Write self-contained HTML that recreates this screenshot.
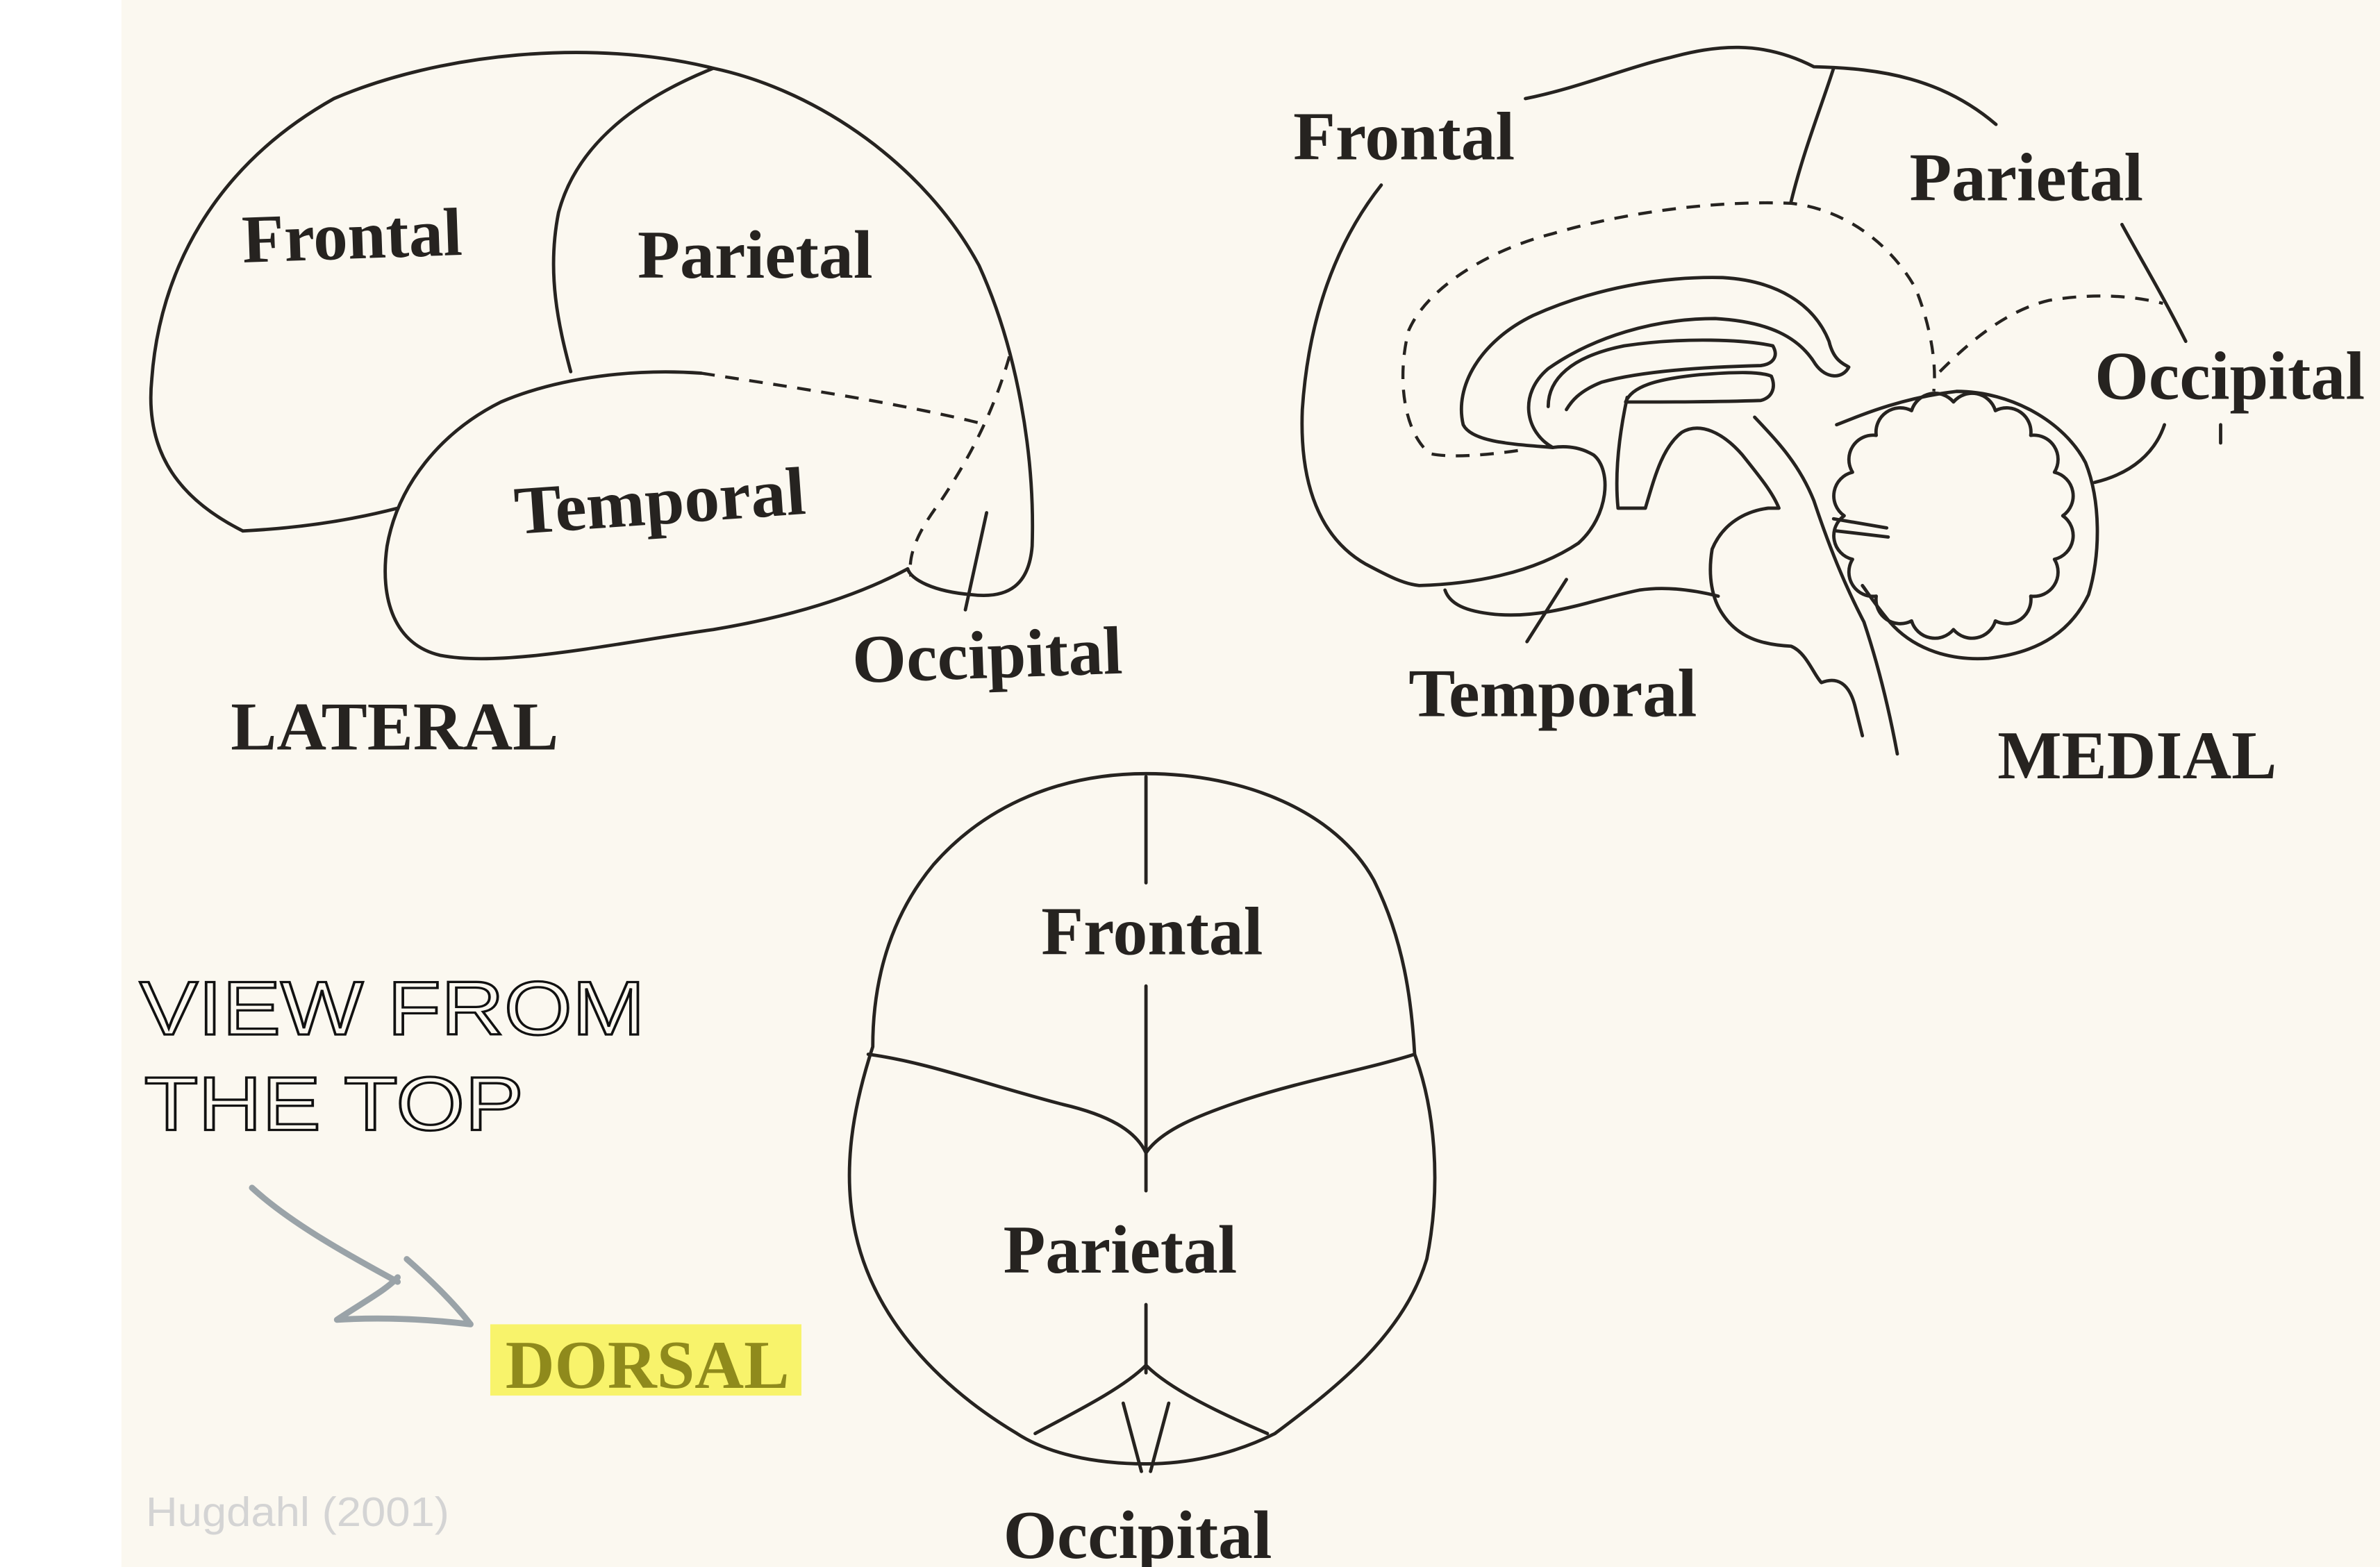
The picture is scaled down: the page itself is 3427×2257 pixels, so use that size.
<!DOCTYPE html>
<html><head><meta charset="utf-8"><style>
html,body{margin:0;padding:0;background:#fff;}
svg{display:block;}
.l{font-family:"Liberation Serif",serif;font-weight:bold;fill:#262320;font-size:45px;}
.s{fill:none;stroke:#262320;stroke-width:2.2;stroke-linecap:round;stroke-linejoin:round;}
.d{fill:none;stroke:#262320;stroke-width:2;stroke-dasharray:9 7;}
.h{font-family:"Liberation Sans",sans-serif;font-size:50px;fill:none;stroke:#111;stroke-width:1.5;}
</style></head><body>
<svg width="3427" height="2257" viewBox="0 0 1568 1033" preserveAspectRatio="none" xmlns="http://www.w3.org/2000/svg">
<rect x="0" y="0" width="1568" height="1033" fill="#ffffff"/>
<rect x="80" y="0" width="1488" height="1033" fill="#fbf8f0"/>

<g>
<path class="s" d="M160,350 C120,330 95,300 100,250 C105,180 140,110 220,65 C290,35 390,25 470,45 C540,60 610,110 645,175 C670,230 682,300 680,360 C678,385 665,395 640,392 C615,390 600,382 598,375"/>
<path class="s" d="M160,350 C200,348 235,342 262,335"/>
<path class="s" d="M598,375 C570,390 530,405 470,415 C400,425 330,440 290,432 C260,425 250,395 255,360 C262,320 290,285 330,265 C370,248 420,243 462,246"/>
<path class="d" d="M462,246 C520,255 590,265 650,280"/>
<path class="s" d="M470,45 C420,65 380,95 368,140 C360,180 368,215 376,245"/>
<path class="d" d="M665,235 C655,270 640,300 620,330 C605,350 598,365 600,380"/>
<path class="s" d="M650,338 L636,402"/>
<text class="l" x="160" y="173" textLength="145" lengthAdjust="spacingAndGlyphs" transform="rotate(-2 160 173)">Frontal</text>
<text class="l" x="420" y="183" textLength="155" lengthAdjust="spacingAndGlyphs">Parietal</text>
<text class="l" x="340" y="352" textLength="192" lengthAdjust="spacingAndGlyphs" transform="rotate(-4 340 352)">Temporal</text>
<text class="l" x="562" y="450" textLength="178" lengthAdjust="spacingAndGlyphs" transform="rotate(-2 562 450)">Occipital</text>
<text class="l" x="152" y="494" textLength="216" lengthAdjust="spacingAndGlyphs">LATERAL</text>
</g>

<g>
<path class="s" d="M1005,65 C1040,58 1070,45 1100,38 C1130,30 1160,26 1195,44 C1240,45 1280,52 1315,82"/>
<path class="s" d="M1208,45 C1200,70 1188,100 1180,133"/>
<path class="s" d="M910,122 C880,160 862,210 858,270 C856,320 870,355 900,372 C915,380 925,385 935,386 C970,385 1010,378 1040,358 C1060,340 1062,310 1050,300 C1040,294 1030,294 1023,295"/>
<path class="s" d="M952,389 C955,398 965,403 985,405 C1020,408 1050,395 1080,389 C1100,386 1120,390 1132,393"/>
<path class="s" d="M1032,382 L1006,423"/>
<path class="s" d="M1023,295 C1000,293 970,292 964,280 C958,255 975,225 1010,208 C1050,190 1095,182 1135,183 C1170,185 1195,200 1205,225 C1208,238 1215,240 1218,242 C1214,250 1203,250 1196,240 C1185,222 1165,212 1130,210 C1090,210 1050,222 1020,243 C1000,260 1005,285 1023,295"/>
<path class="s" d="M1020,268 C1020,250 1035,235 1070,228 C1110,222 1150,224 1168,228 C1172,235 1168,240 1160,241 C1120,242 1080,245 1055,252 C1040,258 1035,265 1032,270"/>
<path class="s" d="M1071,265 C1075,255 1090,250 1120,247 C1145,245 1160,245 1167,248 C1170,255 1168,262 1160,264 C1130,265 1100,265 1071,265 Z"/>
<path class="s" d="M1072,262 C1066,290 1064,315 1066,335 L1084,335 C1090,315 1095,295 1108,285 C1120,278 1135,285 1148,300 C1160,315 1168,325 1172,335 L1165,335 C1150,337 1135,345 1128,362 C1125,380 1128,395 1135,405 C1145,420 1160,425 1180,426 C1190,430 1195,445 1200,450 C1210,446 1218,450 1222,465 L1227,485"/>
<path class="s" d="M1156,275 C1170,290 1185,305 1195,330 C1205,360 1215,385 1228,410 C1238,440 1245,470 1250,497"/>
<path class="s" d="M1208,342 L1243,348"/>
<path class="s" d="M1210,350 L1244,354"/>
<path class="s" d="M1210,280 C1230,272 1255,262 1289,258 C1325,258 1360,278 1374,305 C1384,330 1384,365 1376,392 C1365,415 1345,430 1310,434 C1280,436 1258,425 1245,410 C1235,398 1230,390 1227,386"/>
<path class="s" d="M1359,340 A16 16 0 0 1 1353.5,368.7 A16 16 0 0 1 1337.9,393 A16 16 0 0 1 1314.6,409.3 A16 16 0 0 1 1287,415 A16 16 0 0 1 1259.4,409.3 A16 16 0 0 1 1236.1,393 A16 16 0 0 1 1220.5,368.7 A16 16 0 0 1 1215,340 A16 16 0 0 1 1220.5,311.3 A16 16 0 0 1 1236.1,287 A16 16 0 0 1 1259.4,270.7 A16 16 0 0 1 1287,265 A16 16 0 0 1 1314.6,270.7 A16 16 0 0 1 1337.9,287 A16 16 0 0 1 1353.5,311.3 A16 16 0 0 1 1359,340 Z"/>
<path class="d" d="M1000,297 C980,300 955,302 942,299 C925,285 920,250 928,218 C940,190 980,165 1023,154 C1070,140 1130,132 1180,134 C1215,138 1245,160 1262,190 C1272,215 1276,240 1274,258"/>
<path class="d" d="M1278,245 C1295,228 1320,205 1350,198 C1380,193 1405,195 1425,200"/>
<path class="s" d="M1398,148 C1410,170 1425,195 1440,225"/>
<path class="s" d="M1426,280 C1420,298 1405,312 1380,318"/>
<path class="s" d="M1463,280 L1463,292"/>
<text class="l" x="852" y="105" textLength="146" lengthAdjust="spacingAndGlyphs">Frontal</text>
<text class="l" x="1258" y="132" textLength="154" lengthAdjust="spacingAndGlyphs">Parietal</text>
<text class="l" x="1380" y="263" textLength="178" lengthAdjust="spacingAndGlyphs">Occipital</text>
<text class="l" x="928" y="472" textLength="190" lengthAdjust="spacingAndGlyphs">Temporal</text>
<text class="l" x="1316" y="513" textLength="184" lengthAdjust="spacingAndGlyphs">MEDIAL</text>
</g>

<g>
<path class="s" d="M755,510 C820,510 880,535 905,580 C925,620 930,660 932,695 C945,730 950,780 940,830 C925,880 880,915 840,945 C810,960 780,965 755,965 C720,965 690,958 670,945 C620,915 575,870 563,810 C555,770 562,730 575,690 C575,640 590,600 615,570 C650,530 700,510 755,510 Z"/>
<path class="s" d="M755,512 L755,582"/>
<path class="s" d="M755,650 L755,785"/>
<path class="s" d="M755,860 L755,905"/>
<path class="s" d="M572,695 C610,700 650,715 700,728 C730,735 748,745 755,760 C765,745 790,735 820,725 C860,712 900,705 932,695"/>
<path class="s" d="M682,945 C710,930 740,915 755,900 C770,915 800,930 835,945"/>
<path class="s" d="M740,925 L752,970"/>
<path class="s" d="M770,925 L758,970"/>
<text class="l" x="686" y="629" textLength="146" lengthAdjust="spacingAndGlyphs">Frontal</text>
<text class="l" x="661" y="839" textLength="154" lengthAdjust="spacingAndGlyphs">Parietal</text>
<text class="l" x="661" y="1027" textLength="177" lengthAdjust="spacingAndGlyphs">Occipital</text>
</g>

<g>
<text class="h" x="92" y="682" textLength="333" lengthAdjust="spacingAndGlyphs">VIEW FROM</text>
<text class="h" x="95" y="745" textLength="250" lengthAdjust="spacingAndGlyphs">THE TOP</text>
<path d="M166,783 C190,805 225,825 262,845" fill="none" stroke="#9aa3a8" stroke-width="4" stroke-linecap="round"/>
<path d="M222,870 C240,858 255,850 262,842 M222,870 C255,868 285,870 310,873 M268,830 C285,845 300,860 310,873" fill="none" stroke="#9aa3a8" stroke-width="4" stroke-linecap="round"/>
<rect x="323" y="873" width="205" height="47" fill="#f8f36b"/>
<text x="333" y="915" textLength="187" lengthAdjust="spacingAndGlyphs" style="font-family:'Liberation Serif',serif;font-weight:bold;font-size:45px;fill:#8f8a1c">DORSAL</text>
<text x="96" y="1006" textLength="200" lengthAdjust="spacingAndGlyphs" style="font-family:'Liberation Sans',sans-serif;font-size:27px;fill:#d4d4d4">Hugdahl (2001)</text>
</g>
</svg>
</body></html>
